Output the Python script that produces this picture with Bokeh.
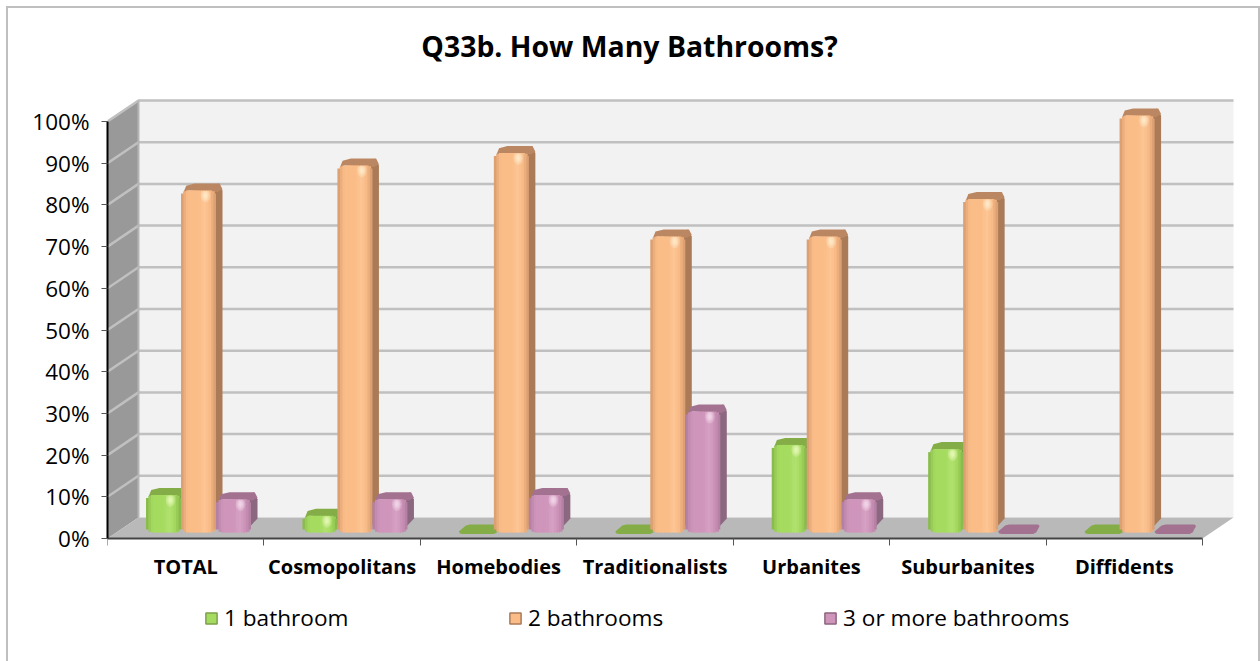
import math
from bokeh.plotting import figure
from bokeh.models import (Range1d, FixedTicker, Legend, LegendItem, ColumnDataSource, Label)
from bokeh.embed import file_html
from bokeh.resources import INLINE

# ---------- data ----------
title_text = "Q33b. How Many Bathrooms?"
categories = ["TOTAL", "Cosmopolitans", "Homebodies", "Traditionalists",
              "Urbanites", "Suburbanites", "Diffidents"]
one_bathroom = [9, 4, 0, 0, 21, 20, 0]
two_bathrooms = [82, 88, 91, 71, 71, 80, 100]
three_plus = [8, 8, 9, 29, 8, 0, 0]
series_names = ["1 bathroom", "2 bathrooms", "3 or more bathrooms"]
y_ticks = [0, 10, 20, 30, 40, 50, 60, 70, 80, 90, 100]
y_labels = ["0%", "10%", "20%", "30%", "40%", "50%", "60%", "70%", "80%", "90%", "100%"]

# ---------- styles ----------
FONT = "Open Sans"
PX_CAT = 156.43     # pixels per category
PX_PCT = 4.17       # pixels per percentage point
FRAME_L, FRAME_R, AXIS_Y = 107, 1234, 538
WALL_DX, WALL_DY = 31, 21
BAR_W, BAR_OFF, BAR_BASE = 35, 38.5, 6
BAR_DX, BAR_DY = 6.5, 7
STYLES = [
    dict(edge="#7fae45", mid="#a5dc60", light="#f4ffc8", side="#7f9f4e", cap="#84ad47"),
    dict(edge="#cf9468", mid="#fbbd88", light="#fff4d8", side="#ab7b58", cap="#bb8762"),
    dict(edge="#a9789a", mid="#cf95bb", light="#fbe6f6", side="#8c6780", cap="#a27290"),
]

W, H = 1250, 653
fig_left, fig_top = 8, 8
FRAME_B = fig_top + H
FRAME_T = fig_top

p = figure(width=W, height=H, output_backend="svg", toolbar_location=None,
           x_range=Range1d(0, (FRAME_R - FRAME_L) / PX_CAT),
           y_range=Range1d(-(FRAME_B - AXIS_Y) / PX_PCT, (AXIS_Y - FRAME_T) / PX_PCT),
           min_border_left=FRAME_L - fig_left, min_border_right=fig_left + W - FRAME_R,
           min_border_top=0, min_border_bottom=0,
           background_fill_color="#ffffff", border_fill_color="#ffffff",
           outline_line_color=None, margin=(fig_top, 0, 0, fig_left))
p.styles = {"outline": "2px solid #bfbfbf"}
p.xgrid.visible = False
p.ygrid.visible = False


def px(v):
    return v / PX_CAT


def py(v):
    return v / PX_PCT


# ---------- walls and floor ----------
xmax = len(categories)
ymax = y_ticks[-1]
ddx, ddy = px(WALL_DX), py(WALL_DY)
p.patch([ddx, xmax + ddx, xmax + ddx, ddx], [ddy, ddy, ymax + ddy, ymax + ddy],
        fill_color="#f2f2f2", line_color=None)
p.patch([0, ddx, ddx, 0], [0, ddy, ymax + ddy, ymax],
        fill_color="#999999", line_color=None)
p.patch([0, xmax, xmax + ddx, ddx], [0, 0, ddy, ddy],
        fill_color="#b9b9b9", line_color=None)
for t in y_ticks[1:]:
    p.line([0, ddx, xmax + ddx], [t, t + ddy, t + ddy], line_color="#c0c0c0", line_width=2.5)
p.line([ddx, ddx], [ddy, ymax + ddy], line_color="#b5b5b5", line_width=2)


# ---------- bars ----------
def corner(d, r):
    if d >= r:
        return 0.0
    return r - math.sqrt(max(r * r - (r - d) ** 2, 0))


def shade(c0, c1, t):
    a = [int(c0[i:i + 2], 16) for i in (1, 3, 5)]
    b = [int(c1[i:i + 2], 16) for i in (1, 3, 5)]
    return "#%02x%02x%02x" % tuple(round(a[i] + (b[i] - a[i]) * t) for i in range(3))


xs, ys, cols, alphas = [], [], [], []


def add(poly_x, poly_y, color, alpha=1.0):
    xs.append(poly_x)
    ys.append(poly_y)
    cols.append(color)
    alphas.append(alpha)


def draw_bar(left, value, st):
    base = py(BAR_BASE)
    top = base + value
    w, bx, by = px(BAR_W), px(BAR_DX), py(BAR_DY)
    if value == 0:
        # a flat, rounded pad lying on the floor
        add([left + px(1), left + px(4), left + w, left + w + px(3), left + w + bx, left + w + px(5),
             left + px(11), left + px(7), left],
            [base - py(1), base - py(1.5), base - py(1.5), base, base + py(6.5), base + py(8),
             base + py(8), base + py(7), base + py(1)], st["cap"])
        return
    r = min(7.0, value * PX_PCT / 2.2)
    rx, ry = px(r), py(r)
    add([left + w - rx, left + w, left + w + bx, left + w + bx, left + w + bx - rx * 0.6, left + w - rx],
        [base, base + ry, base + by + ry, top + by - ry, top + by, top], st["side"])
    add([left + rx * 0.3, left + bx * 0.8, left + bx + rx, left + w + bx - rx * 0.4, left + w + bx, left + w + rx * 0.2, left + rx],
        [top - ry * 0.4, top + by - ry * 0.3, top + by, top + by, top + by - ry * 0.8, top - ry * 0.2, top],
        st["cap"])
    n = 14
    for i in range(n):
        u0, u1 = i / n, (i + 1) / n
        um = (u0 + u1) / 2
        dpx = min(um, 1 - um) * BAR_W
        drop = corner(dpx, r)
        t = min(1.0, dpx / 7.0)
        color = shade(st["edge"], st["mid"], t ** 0.7)
        color = shade(color, st["light"], 0.16 * max(0.0, 1 - abs(um - 0.66) / 0.14))
        x0 = left + u0 * w
        x1 = left + u1 * w + (px(1.2) if i < n - 1 else 0)   # overlap hides the seams
        add([x0, x1, x1, x0],
            [base + py(drop), base + py(drop), top - py(drop), top - py(drop)], color)
    cx, cy = left + 0.7 * w, top - py(min(5.0, value * PX_PCT / 3))
    for rad in (7, 5, 3.5, 2.2):
        pts = [k * math.pi / 6 for k in range(12)]
        add([cx + px(rad * 0.7) * math.cos(a) for a in pts],
            [min(cy + py(rad) * math.sin(a), top - py(0.5)) for a in pts], st["light"], 0.28)


all_series = [one_bathroom, two_bathrooms, three_plus]
for ci in range(len(categories)):
    for si, vals in enumerate(all_series):
        draw_bar(ci + px(BAR_OFF) + si * px(BAR_W), vals[ci], STYLES[si])

src = ColumnDataSource(dict(xs=xs, ys=ys, c=cols, a=alphas))
p.patches("xs", "ys", source=src, fill_color="c", fill_alpha="a", line_color=None)

# ---------- axes ----------
yax = p.yaxis[0]
yax.bounds = (0, 100)
yax.ticker = FixedTicker(ticks=y_ticks)
yax.major_label_overrides = {t: s for t, s in zip(y_ticks, y_labels)}
yax.major_label_text_font = FONT
yax.major_label_text_font_size = "22.5px"
yax.major_label_text_color = "#000000"
yax.axis_line_color = "#000000"
yax.axis_line_width = 2
yax.major_tick_line_color = "#555555"
yax.major_tick_in = 0
yax.major_tick_out = 6
yax.minor_tick_line_color = None
yax.major_label_standoff = 12

centres = [i + 0.5 for i in range(len(categories))]
xax = p.xaxis[0]
xax.fixed_location = 0
xax.bounds = (0, len(categories))
xax.ticker = FixedTicker(ticks=centres, minor_ticks=list(range(len(categories) + 1)))
xax.major_label_overrides = {c: s for c, s in zip(centres, categories)}
xax.major_label_text_font = FONT
xax.major_label_text_font_style = "bold"
xax.major_label_text_font_size = "20px"
xax.major_label_text_color = "#000000"
xax.axis_line_color = "#444444"
xax.axis_line_width = 2
xax.major_tick_line_color = None
xax.minor_tick_line_color = "#555555"
xax.minor_tick_in = 0
xax.minor_tick_out = 7
xax.major_label_standoff = 7

# ---------- title ----------
p.add_layout(Label(x=px(629 - FRAME_L), y=py(AXIS_Y - 45), text=title_text,
                   text_align="center", text_baseline="middle",
                   text_font=FONT, text_font_style="bold", text_font_size="28.4px",
                   text_color="#000000"))

# ---------- legend ----------
legend_x = [209, 513, 828]
for name, st, lx in zip(series_names, STYLES, legend_x):
    r = p.rect(x=[float("nan")], y=[float("nan")], width=1, height=1,
               fill_color=st["mid"], line_color=st["side"], line_width=1.5)
    leg = Legend(items=[LegendItem(label=name, renderers=[r])],
                 location=(lx - FRAME_L - 5, FRAME_B - 617 - 16),
                 background_fill_alpha=0, border_line_color=None,
                 label_text_font=FONT, label_text_font_size="22.6px", label_text_color="#000000",
                 glyph_width=14, glyph_height=14, label_standoff=6, padding=5, margin=0)
    p.add_layout(leg, "center")

open("out.html", "w").write(file_html(p, INLINE))
